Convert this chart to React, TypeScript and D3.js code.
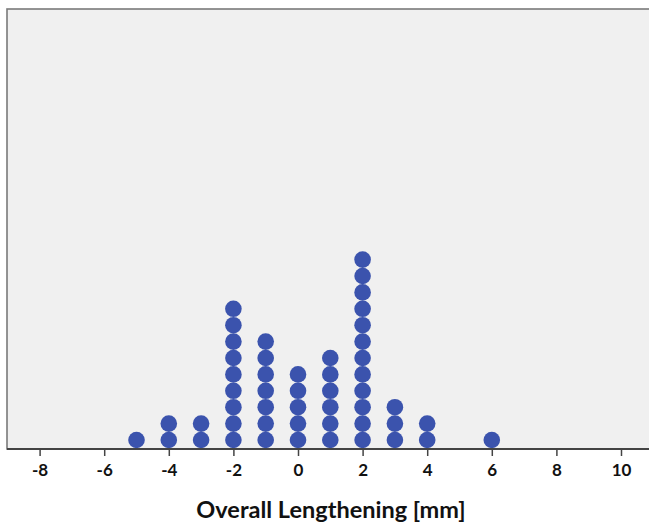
import React, { useEffect, useRef } from "react";
import * as d3 from "d3";

// value (mm) and how many cases sit at that value
const values = [-5, -4, -3, -2, -1, 0, 1, 2, 3, 4, 6];
const counts = [1, 2, 2, 9, 7, 5, 6, 12, 3, 2, 1];
const tickValues = [-8, -6, -4, -2, 0, 2, 4, 6, 8, 10];
const xLabel = "Overall Lengthening [mm]";

const App = () => {
  const svgRef = useRef<SVGSVGElement>(null);

  useEffect(() => {
    const svg = d3.select(svgRef.current);
    svg.selectAll("*").remove();

    const width = 649;
    const height = 523;
    const plot = { left: 7, top: 9, right: 660, bottom: 449 };

    const x = d3.scaleLinear().domain([0, 10]).range([298, 621]);
    const dotStep = 16.4;
    const r = 8.3;
    const y = d3.scaleLinear()
      .domain([0, 1])
      .range([plot.bottom - 9, plot.bottom - 9 - dotStep]);

    svg.attr("width", width).attr("height", height);

    // panel
    svg.append("rect")
      .attr("x", plot.left)
      .attr("y", plot.top)
      .attr("width", plot.right - plot.left)
      .attr("height", plot.bottom - plot.top)
      .attr("fill", "#f0f0f0")
      .attr("stroke", "#7a7a7a")
      .attr("stroke-width", 1.6);

    // dots
    const dots: { v: number; i: number }[] = [];
    values.forEach((v, k) => {
      for (let i = 0; i < counts[k]; i++) dots.push({ v, i });
    });

    svg.append("g")
      .selectAll("circle")
      .data(dots)
      .enter()
      .append("circle")
      .attr("cx", d => x(d.v))
      .attr("cy", d => y(d.i))
      .attr("r", r)
      .attr("fill", "#3b53ad");

    // x axis
    const axis = svg.append("g")
      .attr("transform", `translate(0,${plot.bottom})`)
      .call(d3.axisBottom(x).tickValues(tickValues).tickSize(7).tickSizeOuter(0)
        .tickFormat(d => String(d)));
    axis.select(".domain")
      .attr("d", `M${plot.left},0H${width + 10}`)
      .attr("stroke", "#444")
      .attr("stroke-width", 2);
    axis.selectAll(".tick line").attr("stroke", "#444").attr("stroke-width", 1.5);
    axis.selectAll(".tick text")
      .attr("y", 15)
      .attr("fill", "#111")
      .style("font-family", "Lato, 'Open Sans', sans-serif")
      .style("font-weight", "bold")
      .style("font-size", "17px");

    svg.append("text")
      .attr("x", 331)
      .attr("y", 518)
      .attr("text-anchor", "middle")
      .attr("fill", "#111")
      .style("font-family", "Lato, 'Open Sans', sans-serif")
      .style("font-weight", "bold")
      .style("font-size", "23.5px")
      .text(xLabel);
  }, []);

  return <svg ref={svgRef} style={{ position: "absolute", left: 0, top: 0 }} />;
};

export default App;
